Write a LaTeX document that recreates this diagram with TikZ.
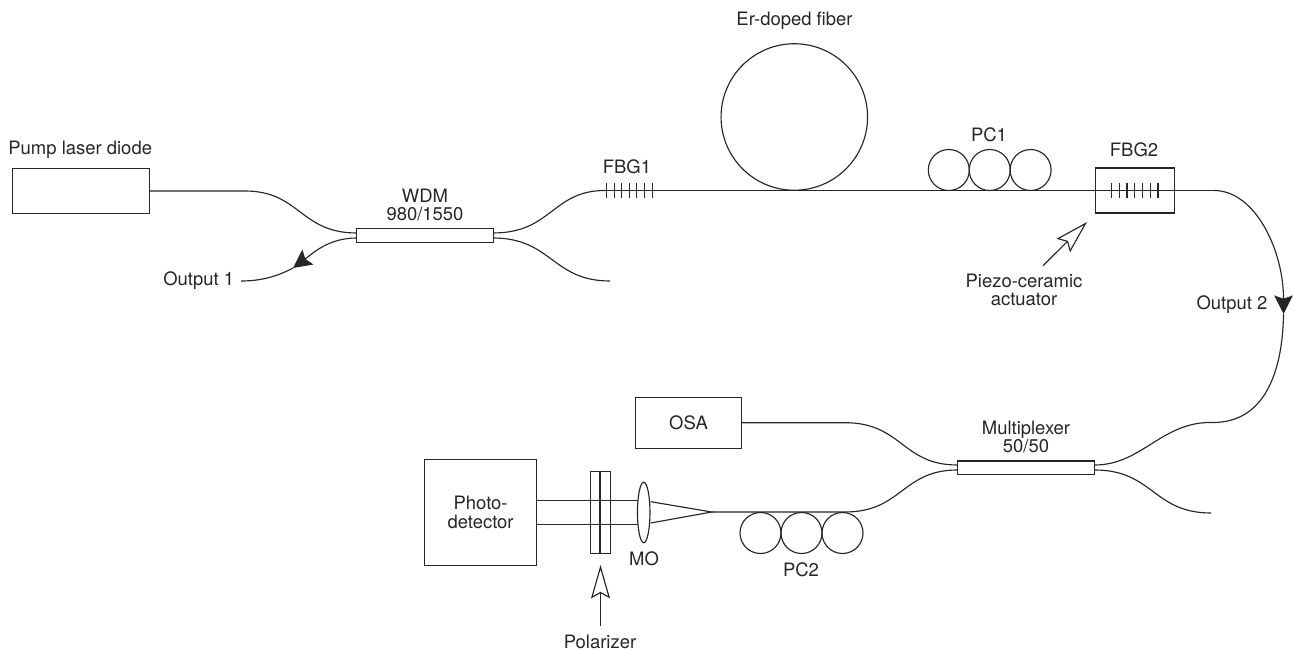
\documentclass[tikz,border=0pt]{standalone}
\usepackage{fontspec}
\setmainfont{TeX Gyre Heros}
\usetikzlibrary{arrows.meta,shapes.geometric}

\begin{document}
\begin{tikzpicture}[x=0.2mm, y=-0.2mm, >=Stealth,
    % ---- styles ----
    F/.style={line width=0.65pt, color=black!85},
    FA/.style={F, -{Stealth[length=10.5pt, width=10.5pt, inset=1.8pt]}},
    OA/.style={F, -{Stealth[open, fill=white, length=19pt, width=10.8pt, inset=3pt]}},
    BOX/.style={draw=black!85, line width=0.7pt, inner sep=0pt, outer sep=0pt,
                align=center, font=\fontsize{10.5}{10.5}\selectfont, text=black!85},
    C/.style={circle, draw=black!85, line width=0.65pt, inner sep=0pt, outer sep=0pt,
              minimum size=0.82cm},
    L/.style={font=\fontsize{10.5}{10.5}\selectfont, text=black!85, align=center,
              inner sep=0pt},
]
\useasboundingbox (0,0) rectangle (1294,651);

% ===== Upper line: pump and WDM =====
\node[BOX, minimum width=2.74cm, minimum height=0.91cm] (pump) at (80.8,191) {};
\node[L, anchor=west] (lpump) at (8,150) {Pump laser diode};
\node[BOX, minimum width=2.73cm, minimum height=0.27cm] (wdm) at (425,235.5) {};
\node[L] (lwdm) at (425,205) {WDM\\980/1550};

\coordinate (pumpb) at (245,191);
\coordinate (wdmlt) at (356.7,233);
\coordinate (wdmlb) at (356.7,238);
\coordinate (wdmrt) at (493,233);
\coordinate (wdmrb) at (493,238);
\coordinate (freea) at (610,281);
\coordinate (outa)  at (293,268);
\coordinate (outb)  at (241,281);
\node[L, anchor=east] (lout1) at (234.5,281) {Output 1};

\draw[F] (pump.east) -- (pumpb) .. controls (300,191) and (300,233) .. (wdmlt);
\draw[FA] (wdmlb) .. controls (328,238) and (312,254) .. (outa);
\draw[F] (outa) .. controls (278,276) and (262,281) .. (outb);
\draw[F] (wdmrb) .. controls (552,238) and (552,281) .. (freea);

% ===== Upper line: gratings, gain fiber, PC1 =====
\coordinate (fbga) at (605,190.5);
\coordinate (bend) at (1214,190.5);
\node[L] (lfbg1) at (627,167) {FBG1};
\node[BOX, minimum width=1.57cm, minimum height=0.9cm] (fbgb) at (1135,190.5) {};
\node[L] (lfbg2) at (1134,150) {FBG2};

\draw[F] (wdmrt) .. controls (552,233) and (552,190.5) .. (fbga);
\draw[F] (fbga) -- (fbgb.west) -- (fbgb.east) -- (bend);

\foreach \x in {0,...,6} {
    \draw[F] (606.5+7.6*\x,183) -- (606.5+7.6*\x,198);
    \draw[F] (1111.5+7.75*\x,183) -- (1111.5+7.75*\x,198);
}

\node[C, minimum size=2.93cm] (erf) at (794.3,117) {};
\node[L] (lerf) at (794.5,21) {Er-doped fiber};

\node[C] (pca) at (948.8,170) {};
\node[C] (pcb) at (989.7,170) {};
\node[C] (pcc) at (1030.6,170) {};
\node[L] (lpc1) at (989,135) {PC1};

% Piezo actuator arrow
\coordinate (piezot) at (1043,265.7);
\coordinate (piezoh) at (1087,222);
\draw[OA] (piezot) -- (piezoh);
\node[L] (lpiezo) at (1024,290) {Piezo-ceramic\\actuator};

% ===== Right side: Output 2 =====
\coordinate (outc) at (1283.5,314);
\coordinate (muxr) at (1213,422.5);
\node[L, anchor=east] (lout2) at (1267.7,305) {Output 2};
\draw[FA] (bend) .. controls (1255,190.5) and (1283.5,250) .. (outc);
\draw[F] (outc) .. controls (1283,350) and (1275,422.5) .. (muxr);

% ===== Lower line: multiplexer and OSA =====
\node[BOX, minimum width=2.75cm, minimum height=0.27cm] (mux) at (1026,467.8) {};
\node[L] (lmux) at (1026,437) {Multiplexer\\50/50};
\node[BOX, minimum width=2.12cm, minimum height=1.03cm] (osa) at (688.5,423) {OSA};

\coordinate (muxlt) at (957.3,465);
\coordinate (muxlb) at (957.3,470);
\coordinate (muxrt) at (1094.7,465);
\coordinate (muxrb) at (1094.7,470);
\coordinate (freeb) at (1211,513);
\coordinate (osab)  at (845,422.7);
\coordinate (pcd)   at (845,512);
\coordinate (tip)   at (711.7,512);

\draw[F] (muxr) .. controls (1162,421) and (1142,465) .. (muxrt);
\draw[F] (muxrb) .. controls (1153,470) and (1153,513) .. (freeb);
\draw[F] (osa.east |- osab) -- (osab) .. controls (902,422.7) and (902,465) .. (muxlt);
\draw[F] (muxlb) .. controls (902,470) and (902,512) .. (pcd) -- (tip);

% ===== Lower line: PC2, objective, polarizer, detector =====
\node[C] (pcx) at (760.5,533) {};
\node[C] (pcy) at (801.5,533) {};
\node[C] (pcz) at (842.5,533) {};
\node[L] (lpc2) at (801,570) {PC2};

\node[ellipse, draw=black!85, line width=0.65pt, inner sep=0pt,
      minimum width=0.25cm, minimum height=1.21cm] (mo) at (643.7,512.5) {};
\node[L] (lmo) at (644,559) {MO};

\node[BOX, minimum width=2.23cm, minimum height=2.13cm] (det) at (480.6,512.5) {Photo-\\detector};
\node[BOX, minimum width=0.4cm, minimum height=1.64cm] (pol) at (600.3,512.7) {};
\draw[line width=1.3pt, color=black!85] (pol.north) -- (pol.south);

\coordinate (beama) at (638.3,500.7);
\coordinate (beamb) at (638.3,524.3);
\coordinate (conea) at (650.7,501.7);
\coordinate (coneb) at (650.7,523);
\draw[F] (det.east |- beama) -- (beama);
\draw[F] (det.east |- beamb) -- (beamb);
\draw[F] (conea) -- (tip) -- (coneb);

% Polarizer arrow
\coordinate (polt) at (600.5,625.7);
\coordinate (polh) at (600.5,565);
\draw[OA] (polt) -- (polh);
\node[L] (lpol) at (600,642) {Polarizer};

\end{tikzpicture}
\end{document}
